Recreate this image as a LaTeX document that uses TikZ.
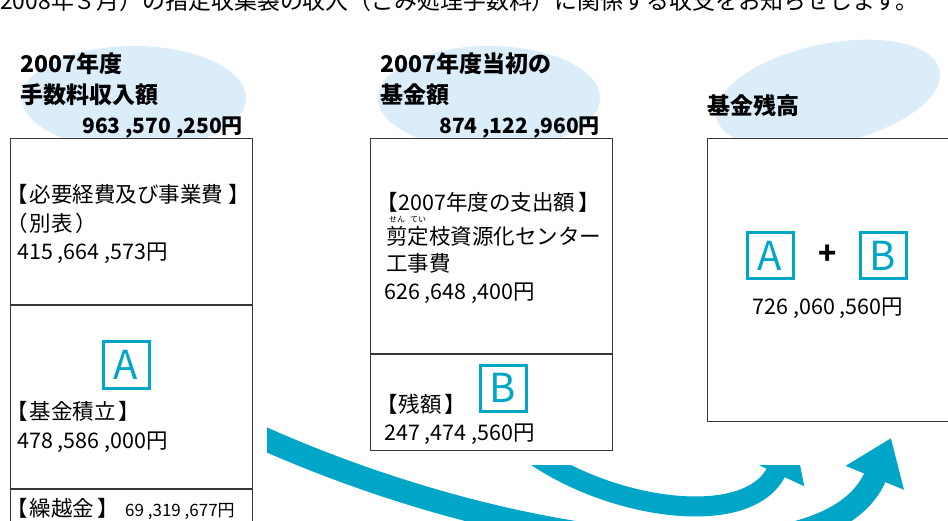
\documentclass[tikz,border=0pt]{standalone}
\usepackage{fontspec}
\setmainfont{Noto Sans CJK JP}
\usetikzlibrary{positioning}
\usetikzlibrary{arrows.meta}
\definecolor{flowcyan}{RGB}{0,166,200}
\definecolor{cloudblue}{RGB}{220,237,250}
\definecolor{rulegray}{RGB}{55,55,55}
\tikzset{panel/.style={draw=rulegray,line width=1.2pt,fill=white,anchor=north west,inner sep=0pt}}
\tikzset{txt/.style={anchor=base west,inner sep=0pt,font=\fontsize{21.5}{21.5}\selectfont}}
\tikzset{head/.style={anchor=base west,inner sep=0pt,font=\fontsize{23}{23}\selectfont\bfseries}}
\tikzset{ruby/.style={inner sep=0pt,font=\fontsize{8}{8}\selectfont}}
\tikzset{letterbox/.style={draw=flowcyan,line width=3pt,text=flowcyan,minimum size=46pt,inner sep=0pt,font=\fontsize{40}{40}\selectfont}}
\tikzset{flowarrow/.style={draw=flowcyan,-{Triangle[length=43pt,width=60pt]}}}
\tikzset{cloud/.style={fill=cloudblue}}

\begin{document}
\begin{tikzpicture}[x=1pt,y=-1pt]
        \useasboundingbox (0,0) rectangle (948,521);

        \node[anchor=base west,inner sep=0pt,font=\fontsize{22.9}{22.9}\selectfont] (intro) at (0,10) {2008年３月）の指定収集袋の収入（ごみ処理手数料）に関係する収支をお知らせします。};

        \fill[cloud] (134,98) ellipse [x radius=112pt, y radius=52pt];
        \fill[cloud] (489,98) ellipse [x radius=111pt, y radius=52pt];
        \fill[cloud] (828,94) ellipse [x radius=114pt, y radius=50pt, rotate=12];

        \node[panel,minimum width=242pt,minimum height=420pt] (fee) at (10,138) {};
        \node[panel,minimum width=242pt,minimum height=312pt] (fund) at (370,138) {};
        \node[panel,minimum width=260pt,minimum height=283pt] (rest) at (707,138) {};

        \coordinate (feeCut1) at (0,305);
        \coordinate (feeCut2) at (0,489);
        \coordinate (fundCut) at (0,354);
        \draw[draw=rulegray,line width=1.2pt] (fee.west |- feeCut1) -- (fee.east |- feeCut1);
        \draw[draw=rulegray,line width=1.2pt] (fee.west |- feeCut2) -- (fee.east |- feeCut2);
        \draw[draw=rulegray,line width=1.2pt] (fund.west |- fundCut) -- (fund.east |- fundCut);

        \node[head] (feeYear) at (20,73) {2007年度};
        \node[head] (feeTitle) at (20,104) {手数料収入額};
        \node[head,anchor=base east,font=\fontsize{21}{21}\selectfont\bfseries] (feeSum) at (243,134) {963 ,570 ,250円};

        \node[head] (fundYear) at (380,73) {2007年度当初の};
        \node[head] (fundTitle) at (380,104) {基金額};
        \node[head,anchor=base east,font=\fontsize{21}{21}\selectfont\bfseries] (fundSum) at (600,134) {874 ,122 ,960円};

        \node[head] (restTitle) at (707,115) {基金残高};

        \node[txt] (costHead) at (6,203) {【\kern2pt 必要経費及び事業費\kern5pt】};
        \node[txt] (costNote) at (6,232) {（\kern2pt 別表\kern3pt）};
        \node[txt] (costSum) at (17,260) {415 ,664 ,573円};

        \node[letterbox] (tagA) at (126,365) {A};
        \node[txt] (saveHead) at (6,419) {【\kern2pt 基金積立\kern3pt】};
        \node[txt] (saveSum) at (17,448) {478 ,586 ,000円};

        \node[txt] (carryHead) at (6,516) {【\kern2pt 繰越金\kern3pt】};
        \node[txt,font=\fontsize{17}{17}\selectfont] (carrySum) at (125,516) {69 ,319 ,677円};

        \node[txt] (spendHead) at (376,211) {【\kern1pt 2007年度の支出額\kern3pt】};
        \node[ruby] (rubySen) at (397,220) {せん};
        \node[ruby] (rubyTei) at (418,220) {てい};
        \node[txt] (spendItem) at (386,245) {剪定枝資源化センター};
        \node[txt] (spendWork) at (386,272) {工事費};
        \node[txt] (spendSum) at (384,300) {626 ,648 ,400円};

        \node[letterbox] (tagB) at (503,388) {B};
        \node[txt] (leftHead) at (376,412) {【\kern1pt 残額\kern3pt】};
        \node[txt] (leftSum) at (384,440) {247 ,474 ,560円};

        \node[letterbox] (sumA) at (770,256) {A};
        \node[letterbox,right=64pt of sumA] (sumB) {B};
        \node[inner sep=0pt,font=\fontsize{30}{30}\selectfont\bfseries] (plus) at (828,255) {+};
        \node[txt,anchor=base] (restSum) at (828,315) {726 ,060 ,560円};

        \coordinate (saveOut) at (258,436);
        \coordinate (restInA) at (891,438);
        \coordinate (leftOut) at (530,452);
        \coordinate (restInB) at (794,434);

        \begin{scope}
        \clip (267,400) rectangle (948,530);
        \draw[flowarrow,line width=23pt] (saveOut) .. controls (523,555) and (831,585) .. (restInA);
        \end{scope}
        \begin{scope}
        \clip (500,465) rectangle (948,530);
        \draw[flowarrow,line width=20pt] (leftOut) .. controls (610,510) and (749,530) .. (restInB);
        \end{scope}
\end{tikzpicture}
\end{document}
